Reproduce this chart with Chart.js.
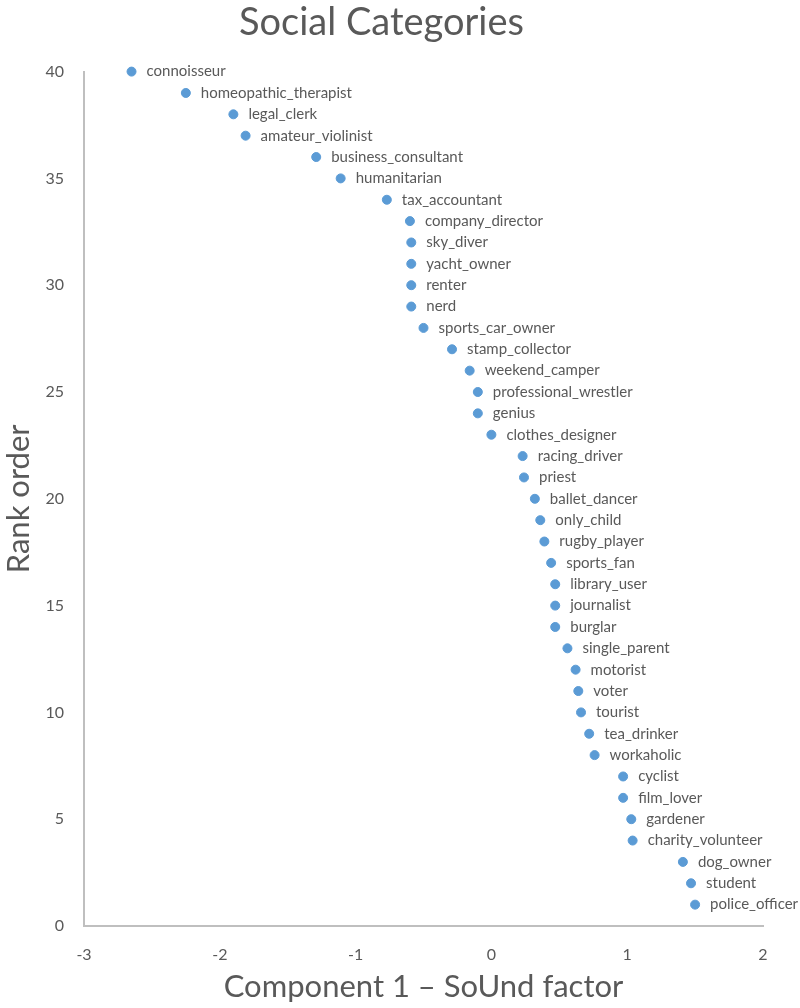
<!DOCTYPE html>
<html>
<head>
<meta charset="utf-8">
<script src="https://cdn.jsdelivr.net/npm/chart.js@4"></script>
<style>
  html, body { margin: 0; padding: 0; background: #fff; }
  #wrap { width: 800px; height: 1008px; }
</style>
</head>
<body>
<div id="wrap"><canvas id="chart"></canvas></div>
<script>
// categories ordered by rank (rank 40 first)
const categories = ['connoisseur', 'homeopathic_therapist', 'legal_clerk', 'amateur_violinist',
  'business_consultant', 'humanitarian', 'tax_accountant', 'company_director', 'sky_diver',
  'yacht_owner', 'renter', 'nerd', 'sports_car_owner', 'stamp_collector', 'weekend_camper',
  'professional_wrestler', 'genius', 'clothes_designer', 'racing_driver', 'priest',
  'ballet_dancer', 'only_child', 'rugby_player', 'sports_fan', 'library_user', 'journalist',
  'burglar', 'single_parent', 'motorist', 'voter', 'tourist', 'tea_drinker', 'workaholic',
  'cyclist', 'film_lover', 'gardener', 'charity_volunteer', 'dog_owner', 'student', 'police_officer'];
const ranks = [40, 39, 38, 37, 36, 35, 34, 33, 32, 31, 30, 29, 28, 27, 26, 25, 24, 23, 22, 21,
  20, 19, 18, 17, 16, 15, 14, 13, 12, 11, 10, 9, 8, 7, 6, 5, 4, 3, 2, 1];
const soundFactor = [-2.65, -2.25, -1.90, -1.81, -1.29, -1.11, -0.77, -0.60, -0.59, -0.59,
  -0.59, -0.59, -0.50, -0.29, -0.16, -0.10, -0.10, 0.00, 0.23, 0.24,
  0.32, 0.36, 0.39, 0.44, 0.47, 0.47, 0.47, 0.56, 0.62, 0.64,
  0.66, 0.72, 0.76, 0.97, 0.97, 1.03, 1.04, 1.41, 1.47, 1.50];
const xTicks = [-3, -2, -1, 0, 1, 2];
const yTicks = [0, 5, 10, 15, 20, 25, 30, 35, 40];

const fontFamily = 'Lato, "Open Sans", sans-serif';
const grey = '#595959';

const pointLabels = {
  id: 'pointLabels',
  afterDatasetsDraw(chart) {
    const ctx = chart.ctx;
    const meta = chart.getDatasetMeta(0);
    ctx.save();
    ctx.font = '15px ' + fontFamily;
    ctx.fillStyle = grey;
    ctx.textBaseline = 'middle';
    ctx.textAlign = 'left';
    meta.data.forEach(function(pt, i) {
      ctx.fillText(categories[i], pt.x + 15, pt.y);
    });
    ctx.restore();
  }
};

new Chart(document.getElementById('chart'), {
  type: 'scatter',
  data: {
    datasets: [{
      data: soundFactor.map((x, i) => ({ x: x, y: ranks[i] })),
      backgroundColor: '#5b9bd5',
      borderColor: '#5b9bd5',
      pointRadius: 4.5,
      pointHoverRadius: 4.5
    }]
  },
  options: {
    responsive: true,
    maintainAspectRatio: false,
    animation: false,
    clip: false,
    layout: { padding: { left: 0, right: 37, top: 0, bottom: 2 } },
    plugins: {
      legend: { display: false },
      tooltip: { enabled: false },
      title: {
        display: true,
        text: 'Social Categories',
        color: grey,
        font: { family: fontFamily, size: 38, weight: 'normal' },
        padding: { top: 0, bottom: 26 }
      }
    },
    scales: {
      x: {
        type: 'linear',
        min: -3,
        max: 2,
        afterBuildTicks(scale) { scale.ticks = xTicks.map(v => ({ value: v })); },
        afterFit(scale) { scale.height = 80; },
        grid: { display: false, drawTicks: false },
        border: { display: true, color: '#bfbfbf', width: 2 },
        ticks: { color: grey, font: { family: fontFamily, size: 16 }, padding: 19 },
        title: {
          display: true,
          text: 'Component 1 \u2013 SoUnd factor',
          color: grey,
          font: { family: fontFamily, size: 31 },
          padding: { top: 0, bottom: 0 }
        }
      },
      y: {
        type: 'linear',
        min: 0,
        max: 40,
        afterBuildTicks(scale) { scale.ticks = yTicks.map(v => ({ value: v })); },
        afterFit(scale) { scale.width = 84; },
        grid: { display: false, drawTicks: false },
        border: { display: true, color: '#bfbfbf', width: 2 },
        ticks: { color: grey, font: { family: fontFamily, size: 16 }, padding: 20 },
        title: {
          display: true,
          text: 'Rank order',
          color: grey,
          font: { family: fontFamily, size: 31 },
          padding: { top: 0, bottom: 0 }
        }
      }
    }
  },
  plugins: [pointLabels]
});
</script>
</body>
</html>
